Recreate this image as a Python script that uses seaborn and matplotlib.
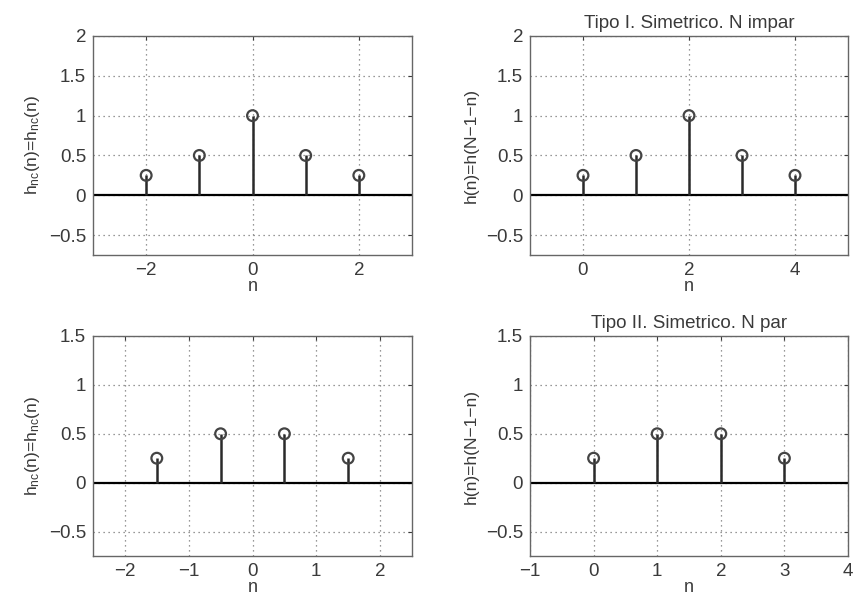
import numpy as np
import pandas as pd
import matplotlib
matplotlib.use("Agg")
import matplotlib.pyplot as plt
from matplotlib.ticker import FuncFormatter
import seaborn as sns

# Data
n_tl = [-2, -1, 0, 1, 2]
h_tl = [0.25, 0.5, 1.0, 0.5, 0.25]
n_tr = [0, 1, 2, 3, 4]
h_tr = [0.25, 0.5, 1.0, 0.5, 0.25]
n_bl = [-1.5, -0.5, 0.5, 1.5]
h_bl = [0.25, 0.5, 0.5, 0.25]
n_br = [0, 1, 2, 3]
h_br = [0.25, 0.5, 0.5, 0.25]

titles = ["", "Tipo I. Simetrico. N impar", "", "Tipo II. Simetrico. N par"]
ylabels = [r"h$_{nc}$(n)=h$_{nc}$(n)", "h(n)=h(N\u22121\u2212n)",
           r"h$_{nc}$(n)=h$_{nc}$(n)", "h(n)=h(N\u22121\u2212n)"]
xlims = [(-3, 3), (-1, 5), (-2.5, 2.5), (-1, 4)]
ylims = [(-0.75, 2), (-0.75, 2), (-0.75, 1.5), (-0.75, 1.5)]
xticks = [[-2, 0, 2], [0, 2, 4], [-2, -1, 0, 1, 2], [-1, 0, 1, 2, 3, 4]]
yticks = [[-0.5, 0, 0.5, 1, 1.5, 2], [-0.5, 0, 0.5, 1, 1.5, 2],
          [-0.5, 0, 0.5, 1, 1.5], [-0.5, 0, 0.5, 1, 1.5]]

sns.set_style("white")
plt.rcParams['font.family'] = ['Liberation Sans', 'DejaVu Sans']
plt.rcParams['axes.unicode_minus'] = True
plt.rcParams['mathtext.fontset'] = 'custom'
plt.rcParams['mathtext.rm'] = 'Liberation Sans'
plt.rcParams['mathtext.it'] = 'Liberation Sans'

W, H = 857, 599
fig = plt.figure(figsize=(W / 100, H / 100), dpi=100)

boxes = [(93, 36, 412, 255), (530, 36, 848, 255),
         (93, 336, 412, 556), (530, 336, 848, 556)]

def fmt(v, pos):
    s = ("%g" % v)
    return s.replace("-", "\u2212")

TXT = "#3a3a3a"
data = [(n_tl, h_tl), (n_tr, h_tr), (n_bl, h_bl), (n_br, h_br)]
for i, (x0, y0, x1, y1) in enumerate(boxes):
    ax = fig.add_axes([x0 / W, 1 - y1 / H, (x1 - x0) / W, (y1 - y0) / H])
    nn, hh = data[i]
    df = pd.DataFrame({"n": nn, "h": hh})
    ax.set_xlim(*xlims[i])
    ax.set_ylim(*ylims[i])
    ax.grid(True, linestyle=(0, (1, 3)), color="#777777", linewidth=0.9)
    ax.set_axisbelow(True)
    ax.axhline(0, color="black", linewidth=1.6, zorder=2)
    ax.vlines(df["n"], 0, df["h"], color="#2a2a2a", linewidth=1.8, zorder=3)
    sns.scatterplot(data=df, x="n", y="h", ax=ax, marker="o", s=60,
                    facecolor="none", edgecolor="#444444", linewidth=1.6,
                    zorder=4, legend=False)
    ax.set_xticks(xticks[i])
    ax.set_yticks(yticks[i])
    ax.xaxis.set_major_formatter(FuncFormatter(fmt))
    ax.yaxis.set_major_formatter(FuncFormatter(fmt))
    ax.tick_params(direction="in", length=3, labelsize=13.5, colors=TXT,
                   top=True, right=True, pad=5)
    for sp in ax.spines.values():
        sp.set_color("#666666")
        sp.set_linewidth(1.0)
    ax.set_xlabel("n", fontsize=13, color=TXT, labelpad=-1)
    ax.set_ylabel(ylabels[i], fontsize=12.5, color=TXT, labelpad=5)
    if titles[i]:
        ax.set_title(titles[i], fontsize=13.5, color=TXT, pad=6)

fig.savefig("out.png", dpi=100)
